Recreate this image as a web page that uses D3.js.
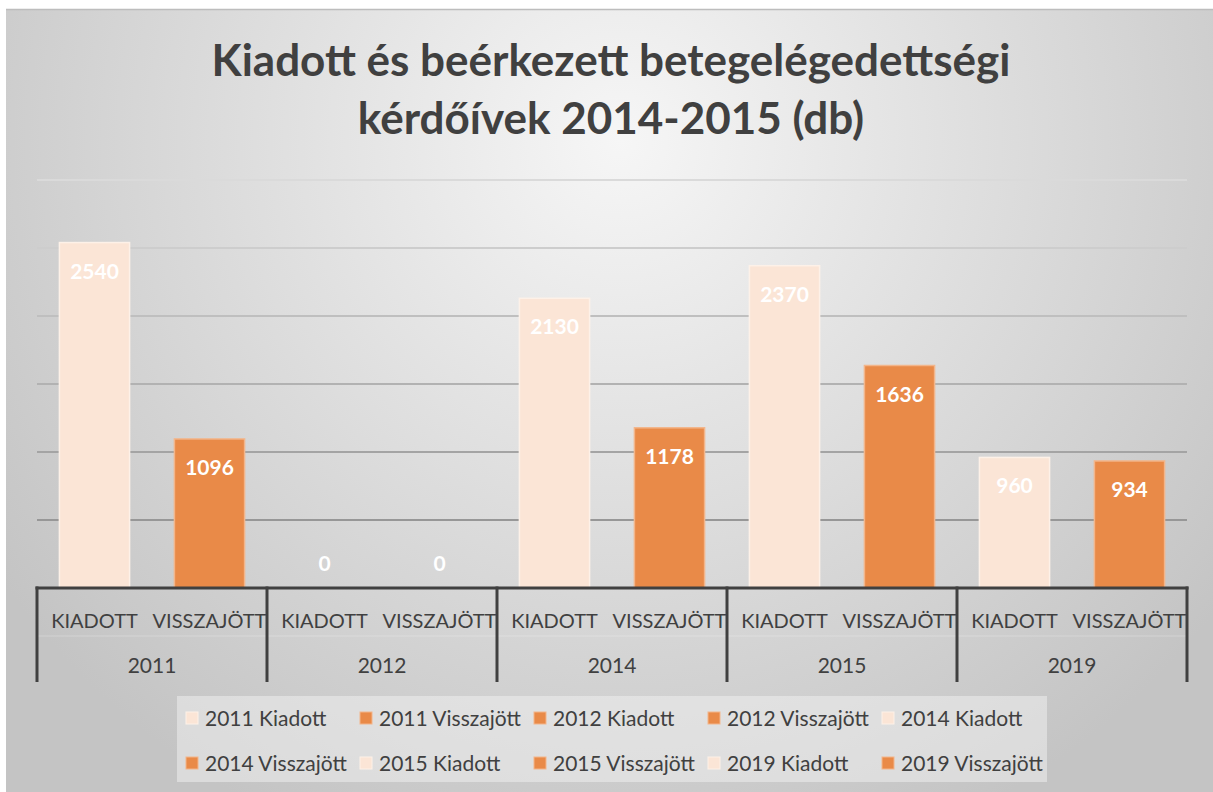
<!DOCTYPE html>
<html>
<head>
<meta charset="utf-8">
<script src="https://cdn.jsdelivr.net/npm/d3@7"></script>
<style>
  body { margin: 0; background: #fff; }
  svg { display: block; }
  text { font-family: Lato, "Open Sans", sans-serif; }
</style>
</head>
<body>
<svg id="chart" width="1213" height="792"></svg>
<script>
// chart data
const years = ['2011', '2012', '2014', '2015', '2019'];
const kinds = ['Kiadott', 'Visszajött'];
const kiadott = [2540, 0, 2130, 2370, 960];
const visszajott = [1096, 0, 1178, 1636, 934];
const yTicks = [0, 500, 1000, 1500, 2000, 2500, 3000];
const titleLines = ['Kiadott és beérkezett betegelégedettségi', 'kérdőívek 2014-2015 (db)'];

const light = {fill: '#fbe5d6', stroke: '#fdf1e8'};
const orange = {fill: '#e98a48', stroke: '#f3b58a'};
// Excel gave the empty "2012 Kiadott" series the orange swatch
function styleOf(d) {
    if (d.kind === 'Kiadott' && d.year !== '2012') return light;
    return orange;
}

const rows = [];
years.forEach(function(yr, i) {
    rows.push({year: yr, kind: 'Kiadott', value: kiadott[i]});
    rows.push({year: yr, kind: 'Visszajött', value: visszajott[i]});
});

const svg = d3.select('#chart');
const W = 1213, H = 792;

// background
const defs = svg.append('defs');
const grad = defs.append('radialGradient')
    .attr('id', 'bg')
    .attr('gradientUnits', 'userSpaceOnUse')
    .attr('cx', 620).attr('cy', 140).attr('r', 760);
grad.append('stop').attr('offset', '0%').attr('stop-color', '#f6f6f6');
grad.append('stop').attr('offset', '100%').attr('stop-color', '#c4c4c4');

svg.append('rect')
    .attr('x', 6).attr('y', 9)
    .attr('width', W - 6).attr('height', H - 9)
    .attr('fill', 'url(#bg)');
svg.append('line')
    .attr('x1', 6).attr('x2', W).attr('y1', 9.5).attr('y2', 9.5)
    .attr('stroke', '#bdbdbd').attr('stroke-width', 1.5);

// title
svg.append('g').selectAll('text')
    .data(titleLines)
    .enter().append('text')
    .attr('x', 611)
    .attr('y', function(d, i) { return 76 + i * 58; })
    .attr('text-anchor', 'middle')
    .attr('font-size', 44)
    .attr('font-weight', 'bold')
    .attr('fill', '#404040')
    .text(function(d) { return d; });

// scales
const x0 = d3.scaleBand().domain(years).range([37, 1187]);
const x1 = d3.scaleBand().domain(kinds).range([0, x0.bandwidth()])
    .paddingInner(0.39).paddingOuter(0.195);
const y = d3.scaleLinear().domain([0, 3000]).range([588, 180]);
const gridColor = d3.scaleLinear().domain([3000, 500]).range(['#dadada', '#979797']);

// gridlines
svg.append('g').selectAll('line')
    .data(yTicks.filter(function(d) { return d > 0; }))
    .enter().append('line')
    .attr('x1', 37).attr('x2', 1187)
    .attr('y1', function(d) { return y(d); })
    .attr('y2', function(d) { return y(d); })
    .attr('stroke', function(d) { return gridColor(d); })
    .attr('stroke-width', 2);

// bars
const bar = svg.append('g').selectAll('g')
    .data(rows)
    .enter().append('g')
    .attr('transform', function(d) { return 'translate(' + (x0(d.year) + x1(d.kind)) + ',0)'; });

bar.append('rect')
    .attr('x', 0)
    .attr('y', function(d) { return y(d.value); })
    .attr('width', x1.bandwidth())
    .attr('height', function(d) { return y(0) - y(d.value); })
    .attr('fill', function(d) { return styleOf(d).fill; })
    .attr('stroke', function(d) { return d.value > 0 ? styleOf(d).stroke : 'none'; })
    .attr('stroke-width', 1.5);

bar.append('text')
    .attr('x', x1.bandwidth() / 2)
    .attr('y', function(d) { return d.value > 0 ? y(d.value) + 36 : y(0) - 17; })
    .attr('text-anchor', 'middle')
    .attr('font-size', 21)
    .attr('font-weight', 'bold')
    .attr('fill', '#fff')
    .text(function(d) { return d.value; });

// category axis
const ax = svg.append('g');
ax.append('line')
    .attr('x1', 37).attr('x2', 1187).attr('y1', 636).attr('y2', 636)
    .attr('stroke', '#ffffff').attr('stroke-opacity', 0.25).attr('stroke-width', 1);
ax.selectAll('.sub')
    .data(rows)
    .enter().append('text')
    .attr('class', 'sub')
    .attr('x', function(d) { return x0(d.year) + x1(d.kind) + x1.bandwidth() / 2; })
    .attr('y', 628)
    .attr('text-anchor', 'middle')
    .attr('font-size', 20)
    .attr('fill', '#404040')
    .text(function(d) { return d.kind.toUpperCase(); });
ax.selectAll('.yr')
    .data(years)
    .enter().append('text')
    .attr('class', 'yr')
    .attr('x', function(d) { return x0(d) + x0.bandwidth() / 2; })
    .attr('y', 673)
    .attr('text-anchor', 'middle')
    .attr('font-size', 21)
    .attr('fill', '#404040')
    .text(function(d) { return d; });
ax.selectAll('.sep')
    .data(years.map(function(d) { return x0(d); }).concat([x0.range()[1]]))
    .enter().append('line')
    .attr('class', 'sep')
    .attr('x1', function(d) { return d; }).attr('x2', function(d) { return d; })
    .attr('y1', y(0) - 1.5).attr('y2', 682)
    .attr('stroke', '#404040').attr('stroke-width', 3);
ax.append('line')
    .attr('x1', 35.5).attr('x2', 1188.5).attr('y1', y(0)).attr('y2', y(0))
    .attr('stroke', '#404040').attr('stroke-width', 3);

// legend
svg.append('rect')
    .attr('x', 177).attr('y', 696).attr('width', 870).attr('height', 86)
    .attr('fill', '#f2f2f2').attr('fill-opacity', 0.5);

const legItem = svg.append('g').selectAll('g')
    .data(rows)
    .enter().append('g')
    .attr('transform', function(d, i) {
        return 'translate(' + (186 + (i % 5) * 174) + ',' + (718 + Math.floor(i / 5) * 45) + ')';
    });
legItem.append('rect')
    .attr('x', 0).attr('y', -6).attr('width', 12).attr('height', 12)
    .attr('fill', function(d) { return styleOf(d).fill; })
    .attr('stroke', function(d) { return styleOf(d).stroke; });
legItem.append('text')
    .attr('x', 19).attr('y', 7.5)
    .attr('font-size', 21)
    .attr('fill', '#404040')
    .text(function(d) { return d.year + ' ' + d.kind; });
</script>
</body>
</html>
